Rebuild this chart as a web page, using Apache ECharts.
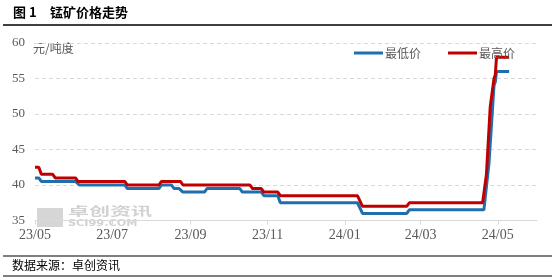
<!DOCTYPE html>
<html>
<head>
<meta charset="utf-8">
<script src="https://cdn.jsdelivr.net/npm/echarts@6/dist/echarts.min.js"></script>
<style>html,body{margin:0;padding:0;background:#fff}#c{width:557px;height:280px}</style>
</head>
<body>
<div id="c"></div>
<script>
const xTickLabels = ['2023-05-01','2023-07-01','2023-09-01','2023-11-01','2024-01-01','2024-03-01','2024-05-01'];
const yTicks = [35, 40, 45, 50, 55, 60];
const seriesNames = ['最低价', '最高价'];

const lowDates = ['2023-05-01','2023-05-04','2023-05-06','2023-06-02','2023-06-05','2023-07-11','2023-07-13','2023-08-07','2023-08-09','2023-08-17','2023-08-19','2023-08-23','2023-08-26','2023-09-12','2023-09-14','2023-10-10','2023-10-12','2023-10-27','2023-10-29','2023-11-09','2023-11-11','2024-01-11','2024-01-15','2024-02-19','2024-02-21','2024-04-20','2024-04-24','2024-04-28','2024-04-29','2024-04-30','2024-05-10'];
const lowValues = [41,41,40.5,40.5,40,40,39.5,39.5,40,40,39.5,39.5,39,39,39.5,39.5,39,39,38.5,38.5,37.5,37.5,36,36,36.5,36.5,43,54,54.5,56,56];

const highDates = ['2023-05-01','2023-05-04','2023-05-06','2023-05-15','2023-05-17','2023-06-02','2023-06-04','2023-07-11','2023-07-13','2023-08-07','2023-08-09','2023-08-24','2023-08-26','2023-10-18','2023-10-20','2023-10-27','2023-10-29','2023-11-09','2023-11-11','2024-01-11','2024-01-15','2024-02-19','2024-02-21','2024-04-19','2024-04-22','2024-04-25','2024-04-28','2024-04-29','2024-04-30','2024-05-10'];
const highValues = [42.5,42.5,41.5,41.5,41,41,40.5,40.5,40,40,40.5,40.5,40,40,39.5,39.5,39,39,38.5,38.5,37,37,37.5,37.5,41.5,51,55,55.5,58,58];

function ts(s){ const p = s.split('-').map(Number); return new Date(p[0], p[1]-1, p[2]).getTime(); }
const tickTs = xTickLabels.map(ts);

const chart = echarts.init(document.getElementById('c'), null, {renderer: 'canvas'});
const cjk = '"Noto Sans CJK SC", sans-serif';
const serif = '"Liberation Serif", serif';
chart.setOption({
  animation: false,
  backgroundColor: '#fff',
  grid: {left: 35, right: 20, top: 43, bottom: 59.5, containLabel: false},
  legend: {
    left: 349, top: 42,
    data: seriesNames,
    icon: 'rect', itemWidth: 29, itemHeight: 3, itemGap: 27,
    textStyle: {fontFamily: cjk, fontSize: 12, color: '#595959', padding: [0,0,0,-3]}
  },
  xAxis: {
    type: 'value',
    min: ts('2023-05-01'), max: ts('2024-06-01'),
    axisLine: {lineStyle: {color: '#d9d9d9', width: 1}},
    axisTick: {show: true, customValues: tickTs, length: 4, lineStyle: {color: '#d9d9d9'}},
    axisLabel: {
      customValues: tickTs,
      color: '#595959', fontFamily: serif, fontSize: 14, margin: 8,
      formatter: function(v){ const d = new Date(v); return String(d.getFullYear()).slice(2) + '/' + String(d.getMonth()+1).padStart(2,'0'); }
    },
    splitLine: {show: false}
  },
  yAxis: {
    type: 'value', min: yTicks[0], max: yTicks[yTicks.length-1], interval: 5,
    axisLine: {show: false}, axisTick: {show: false},
    axisLabel: {color: '#595959', fontFamily: serif, fontSize: 13, margin: 10},
    splitLine: {lineStyle: {color: '#d9d9d9', type: [4,3], width: 1}}
  },
  series: [
    {name: seriesNames[0], type: 'line', showSymbol: false, color: '#1F6FAE',
     lineStyle: {width: 3, color: '#1F6FAE'},
     data: lowDates.map((d,i)=>[ts(d), lowValues[i]])},
    {name: seriesNames[1], type: 'line', showSymbol: false, color: '#C00000',
     lineStyle: {width: 3, color: '#C00000'},
     data: highDates.map((d,i)=>[ts(d), highValues[i]])}
  ],
  graphic: [
    {type: 'text', left: 13, top: 6, style: {text: '图 1', font: 'bold 13px ' + cjk, fill: '#000'}},
    {type: 'text', left: 50, top: 6, style: {text: '锰矿价格走势', font: 'bold 13px ' + cjk, fill: '#000'}},
    {type: 'line', shape: {x1: 3, y1: 25, x2: 552, y2: 25}, style: {stroke: '#000', lineWidth: 1.5}},
    {type: 'text', left: 33, top: 42, style: {text: '元/吨度', font: '12px ' + cjk, fill: '#595959'}},
    {type: 'rect', shape: {x: 37, y: 208, width: 26, height: 19}, style: {fill: '#d6d6d6'}, z: 0},
    {type: 'text', x: 68, y: 205, scaleX: 1.75, style: {text: '卓创资讯', font: 'bold 12px ' + cjk, fill: '#d2d2d2'}, z: 0},
    {type: 'text', x: 68, y: 219, scaleX: 1.25, style: {text: 'SCI99.COM', font: 'bold 9px "DejaVu Sans"', fill: '#d2d2d2'}, z: 0},
    {type: 'line', shape: {x1: 3, y1: 256, x2: 552, y2: 256}, style: {stroke: '#000', lineWidth: 1.2}},
    {type: 'text', left: 12, top: 259, style: {text: '数据来源：卓创资讯', font: '12px ' + cjk, fill: '#000'}},
    {type: 'line', shape: {x1: 3, y1: 276, x2: 552, y2: 276}, style: {stroke: '#000', lineWidth: 1.2}}
  ]
});
</script>
</body>
</html>
